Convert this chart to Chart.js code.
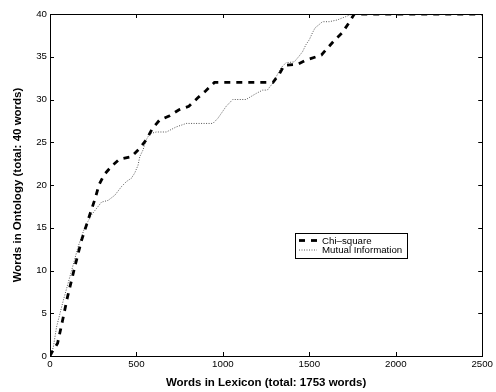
<!DOCTYPE html>
<html>
<head>
<meta charset="utf-8">
<script src="https://cdn.jsdelivr.net/npm/chart.js@4"></script>
<style>
  html, body { margin: 0; padding: 0; background: #fff; }
  #wrap { width: 496px; height: 392px; }
</style>
</head>
<body>
<div id="wrap"><canvas id="c" width="496" height="392"></canvas></div>
<script>
// Words covered in the ontology as the lexicon grows, for two term-ranking measures
const chiX = [0, 10, 44, 71, 100, 148, 182, 225, 264, 283, 313, 356, 400, 470, 519, 557, 592, 634, 692, 746, 803, 855, 900, 951, 1015, 1290, 1327, 1355, 1430, 1480, 1540, 1570, 1600, 1640, 1690, 1730, 1760, 2500];
const chiY = [0, 0.4, 1.5, 4, 6.8, 10.8, 13.5, 16.2, 18.6, 20, 21.2, 22.2, 23, 23.3, 24.3, 25.3, 26.6, 27.6, 28.1, 28.8, 29.2, 30.2, 31, 32, 32, 32, 33, 34, 34.1, 34.6, 35, 35.2, 35.9, 36.8, 37.8, 39, 40, 40];

const miX = [0, 19, 38, 77, 125, 163, 202, 240, 259, 298, 336, 375, 413, 442, 471, 490, 509, 519, 538, 557, 577, 615, 673, 731, 788, 942, 971, 1019, 1057, 1134, 1192, 1230, 1257, 1288, 1336, 1365, 1413, 1442, 1461, 1480, 1500, 1518, 1534, 1553, 1576, 1615, 1661, 1711, 1749, 2500];
const miY = [0, 1, 3.4, 6.5, 10, 12.8, 15.1, 16.5, 17, 18, 18.2, 18.8, 19.8, 20.4, 20.8, 21.4, 22.3, 23.3, 24.1, 25.3, 26, 26.2, 26.2, 26.8, 27.2, 27.2, 27.8, 29.2, 30, 30, 30.7, 31.1, 31.1, 31.9, 33.7, 34.3, 34.4, 35.1, 35.6, 36.4, 37, 37.8, 38.4, 38.7, 39.1, 39.1, 39.3, 39.7, 40, 40];

const seriesNames = ['Chi\u2013square', 'Mutual Information'];
const xTickValues = [0, 500, 1000, 1500, 2000, 2500];
const yTickValues = [0, 5, 10, 15, 20, 25, 30, 35, 40];
const xTitle = 'Words in Lexicon (total: 1753 words)';
const yTitle = 'Words in Ontology (total: 40 words)';

const FONT = "'Liberation Sans', Arial, Helvetica, sans-serif";
const toPoints = (xs, ys) => xs.map((x, i) => ({ x: x, y: ys[i] }));
const plainNumber = v => String(v);

// Box around the plot with short inward ticks on all four sides
const boxTicks = {
  id: 'boxTicks',
  afterDatasetsDraw(chart) {
    const { ctx, chartArea: a, scales } = chart;
    const len = 4;
    ctx.save();
    ctx.strokeStyle = '#000';
    ctx.lineWidth = 1;
    ctx.beginPath();
    ctx.rect(Math.round(a.left) + 0.5, Math.round(a.top) + 0.5, Math.round(a.right - a.left), Math.round(a.bottom - a.top));
    scales.x.ticks.forEach(t => {
      const px = Math.round(scales.x.getPixelForValue(t.value)) + 0.5;
      ctx.moveTo(px, a.bottom); ctx.lineTo(px, a.bottom - len);
      ctx.moveTo(px, a.top); ctx.lineTo(px, a.top + len);
    });
    scales.y.ticks.forEach(t => {
      const py = Math.round(scales.y.getPixelForValue(t.value)) + 0.5;
      ctx.moveTo(a.left, py); ctx.lineTo(a.left + len, py);
      ctx.moveTo(a.right, py); ctx.lineTo(a.right - len, py);
    });
    ctx.stroke();
    ctx.restore();
  }
};

// Boxed legend placed inside the plot area
const boxLegend = {
  id: 'boxLegend',
  afterDraw(chart) {
    const { ctx } = chart;
    const x0 = 295, y0 = 233, w = 112, h = 25;
    ctx.save();
    ctx.fillStyle = '#fff';
    ctx.fillRect(x0, y0, w, h);
    ctx.strokeStyle = '#000';
    ctx.lineWidth = 1;
    ctx.strokeRect(x0 + 0.5, y0 + 0.5, w, h);
    ctx.font = '9.7px ' + FONT;
    ctx.textBaseline = 'middle';
    chart.data.datasets.forEach((ds, i) => {
      const y = y0 + 7.5 + i * 9.5;
      ctx.beginPath();
      ctx.strokeStyle = ds.borderColor;
      ctx.lineWidth = ds.borderWidth;
      ctx.setLineDash(ds.borderDash);
      ctx.moveTo(x0 + 4, y);
      ctx.lineTo(x0 + 22, y);
      ctx.stroke();
      ctx.setLineDash([]);
      ctx.fillStyle = '#000';
      ctx.fillText(ds.label, x0 + 27, y + 0.5);
    });
    ctx.restore();
  }
};

new Chart(document.getElementById('c'), {
  type: 'scatter',
  data: {
    datasets: [
      {
        label: seriesNames[0],
        data: toPoints(chiX, chiY),
        showLine: true,
        borderColor: '#000',
        borderWidth: 2.8,
        borderDash: [6, 6],
        borderCapStyle: 'butt',
        pointRadius: 0,
        tension: 0,
        fill: false
      },
      {
        label: seriesNames[1],
        data: toPoints(miX, miY),
        showLine: true,
        borderColor: '#555',
        borderWidth: 1,
        borderDash: [1, 1.5],
        pointRadius: 0,
        tension: 0,
        fill: false
      }
    ]
  },
  options: {
    responsive: false,
    animation: false,
    devicePixelRatio: 1,
    layout: { padding: { left: 0, top: 14, right: 12, bottom: 0 } },
    plugins: {
      legend: { display: false },
      tooltip: { enabled: false }
    },
    scales: {
      x: {
        type: 'linear',
        min: 0,
        max: 2500,
        afterBuildTicks: s => { s.ticks = xTickValues.map(v => ({ value: v })); },
        afterFit: s => { s.height = 36; },
        grid: { display: false, drawTicks: false },
        border: { display: true, color: '#000', width: 1 },
        ticks: { color: '#000', font: { family: FONT, size: 9.7 }, padding: 3, maxRotation: 0, autoSkip: false, callback: plainNumber },
        title: { display: true, text: xTitle, color: '#000', font: { family: FONT, size: 11.5, weight: 'bold' }, padding: { top: 0, bottom: 2 } }
      },
      y: {
        type: 'linear',
        min: 0,
        max: 40,
        afterBuildTicks: s => { s.ticks = yTickValues.map(v => ({ value: v })); },
        afterFit: s => { s.width = 50; },
        grid: { display: false, drawTicks: false },
        border: { display: true, color: '#000', width: 1 },
        ticks: { color: '#000', font: { family: FONT, size: 9.7 }, padding: 3, autoSkip: false, callback: plainNumber },
        title: { display: true, text: yTitle, color: '#000', font: { family: FONT, size: 11.5, weight: 'bold' }, padding: { top: 11, bottom: 0 } }
      }
    }
  },
  plugins: [boxTicks, boxLegend]
});
</script>
</body>
</html>
